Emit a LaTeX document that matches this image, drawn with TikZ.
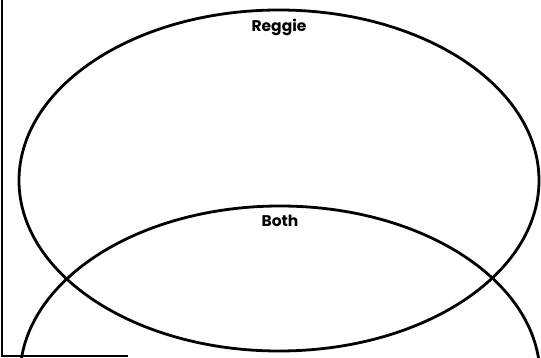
\documentclass[tikz,border=0pt]{standalone}
\usepackage{fontspec}
\setmainfont{Poppins}
\usepackage{tikz}
\usetikzlibrary{positioning,shapes.geometric}

\begin{document}
\begin{tikzpicture}[
	x=1pt, y=1pt,
	node distance=10pt,
	set/.style={draw, ellipse, line width=2.8pt, minimum width=520pt, minimum height=341pt, inner sep=0pt},
	title/.style={font=\fontsize{15.5}{18}\selectfont\bfseries, inner sep=0pt}
]
\useasboundingbox (0,0) rectangle (541,357);
\clip (0,0) rectangle (541,357);
\node[set] (reggie) at (279,176.5) {};
\node[set] (both) at (280,-19.5) {};
\node[title, below=of reggie.north] (lreggie) {Reggie};
\node[title, below=of both.north] (lboth) {Both};

\draw[line width=1.4pt] (2,357) -- (2,1) -- (128,1);
\end{tikzpicture}
\end{document}
